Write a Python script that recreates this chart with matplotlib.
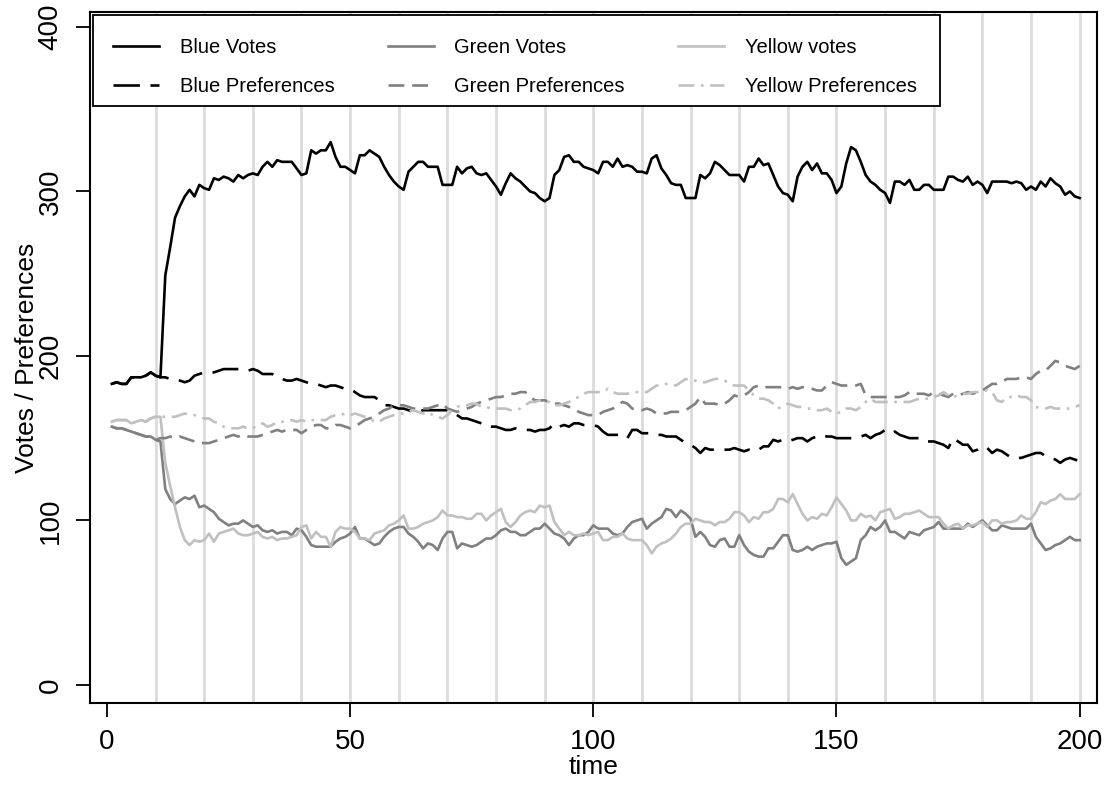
import numpy as np
import matplotlib.pyplot as plt
from matplotlib.patches import Rectangle

plt.rcParams['font.family'] = ['Liberation Sans', 'DejaVu Sans']

# vote and preference counts per time step (t = 1..200)
time = np.arange(1, 201)

blue_votes = [
    183, 184, 183, 183, 187, 187, 187, 188, 190, 188,
    187, 249, 266, 284, 291, 297, 301, 297, 304, 302,
    301, 308, 307, 309, 308, 306, 310, 308, 310, 311,
    310, 315, 318, 315, 319, 318, 318, 318, 314, 310,
    311, 325, 323, 325, 325, 330, 321, 315, 315, 313,
    311, 322, 322, 325, 323, 321, 315, 310, 306, 303,
    301, 312, 315, 318, 318, 315, 315, 315, 304, 304,
    304, 315, 311, 314, 315, 311, 310, 311, 307, 303,
    298, 305, 311, 308, 306, 303, 300, 299, 296, 294,
    296, 310, 313, 321, 322, 318, 318, 315, 314, 313,
    311, 318, 318, 315, 320, 315, 316, 315, 312, 312,
    311, 320, 322, 314, 310, 305, 304, 304, 296, 296,
    296, 310, 308, 311, 318, 316, 313, 310, 310, 310,
    306, 315, 315, 320, 316, 317, 310, 303, 299, 298,
    294, 309, 315, 318, 313, 317, 311, 311, 307, 299,
    303, 317, 327, 325, 318, 310, 306, 304, 301, 299,
    293, 306, 306, 304, 307, 301, 301, 304, 304, 301,
    301, 301, 309, 309, 307, 306, 309, 304, 306, 304,
    299, 306, 306, 306, 306, 305, 306, 305, 301, 303,
    301, 306, 303, 308, 305, 303, 298, 300, 297, 296,
]

green_votes = [
    157, 156, 156, 155, 154, 153, 152, 151, 151, 149,
    148, 119, 113, 110, 112, 114, 113, 115, 108, 109,
    107, 105, 101, 99, 97, 98, 98, 100, 98, 96,
    97, 94, 93, 94, 92, 93, 93, 91, 95, 94,
    90, 85, 84, 84, 84, 84, 87, 89, 90, 92,
    96, 89, 89, 87, 85, 86, 90, 93, 95, 96,
    96, 92, 90, 87, 83, 86, 85, 82, 89, 93,
    93, 83, 86, 85, 84, 85, 87, 89, 89, 91,
    94, 95, 93, 93, 91, 91, 93, 95, 95, 98,
    95, 92, 91, 89, 85, 89, 91, 91, 93, 97,
    95, 95, 95, 92, 91, 92, 96, 99, 100, 101,
    95, 98, 100, 102, 107, 106, 102, 106, 104, 101,
    90, 93, 90, 85, 84, 88, 89, 84, 84, 91,
    85, 81, 79, 78, 78, 83, 83, 87, 91, 91,
    82, 81, 82, 84, 82, 84, 85, 86, 86, 87,
    77, 73, 75, 77, 88, 91, 96, 94, 96, 100,
    93, 93, 91, 89, 93, 92, 91, 94, 95, 96,
    99, 95, 95, 95, 95, 95, 98, 96, 98, 100,
    97, 94, 94, 97, 96, 95, 95, 95, 95, 98,
    90, 86, 82, 83, 85, 86, 88, 90, 88, 88,
]

yellow_votes = [
    160, 161, 161, 161, 159, 160, 161, 160, 162, 163,
    163, 135, 121, 108, 96, 88, 85, 88, 87, 88,
    92, 87, 92, 93, 94, 95, 92, 91, 91, 92,
    93, 90, 89, 90, 88, 89, 89, 90, 91, 96,
    97, 89, 93, 90, 90, 84, 93, 96, 95, 95,
    93, 89, 89, 88, 92, 93, 94, 97, 98, 100,
    103, 95, 95, 96, 98, 99, 100, 102, 106, 103,
    103, 102, 102, 101, 101, 104, 104, 100, 103, 105,
    107, 99, 96, 99, 103, 105, 106, 105, 109, 108,
    109, 99, 95, 91, 93, 91, 91, 92, 91, 92,
    93, 88, 88, 90, 90, 92, 89, 88, 88, 88,
    85, 80, 84, 86, 87, 89, 92, 96, 98, 98,
    101, 100, 99, 99, 97, 99, 99, 101, 105, 105,
    103, 99, 102, 101, 105, 105, 107, 113, 113, 111,
    116, 110, 104, 100, 102, 101, 104, 103, 108, 114,
    110, 106, 100, 100, 104, 102, 103, 100, 105, 106,
    107, 101, 102, 104, 104, 105, 106, 104, 102, 102,
    102, 98, 95, 97, 98, 95, 97, 97, 98, 99,
    96, 100, 100, 98, 99, 99, 100, 103, 101, 101,
    105, 111, 110, 112, 113, 116, 113, 113, 113, 116,
]

blue_prefs = [
    183, 184, 183, 183, 187, 187, 187, 188, 190, 188,
    187, 187, 186, 186, 185, 184, 185, 188, 189, 190,
    190, 190, 191, 192, 192, 192, 192, 192, 191, 192,
    191, 189, 189, 189, 187, 186, 185, 185, 186, 185,
    184, 183, 183, 182, 181, 182, 182, 181, 180, 180,
    178, 176, 175, 175, 175, 173, 170, 170, 169, 168,
    168, 167, 166, 166, 167, 167, 167, 167, 167, 167,
    166, 164, 162, 162, 161, 160, 159, 157, 157, 157,
    156, 155, 155, 156, 155, 155, 155, 154, 155, 155,
    156, 159, 157, 158, 157, 159, 159, 158, 158, 158,
    157, 154, 152, 152, 152, 152, 150, 155, 155, 153,
    153, 153, 152, 152, 151, 151, 151, 149, 147, 146,
    144, 141, 144, 143, 143, 143, 143, 143, 144, 143,
    142, 143, 142, 143, 145, 145, 149, 148, 149, 148,
    149, 150, 150, 148, 150, 151, 152, 151, 151, 150,
    150, 150, 150, 150, 151, 152, 150, 152, 153, 155,
    153, 154, 152, 151, 150, 150, 150, 148, 148, 148,
    147, 146, 144, 150, 148, 146, 146, 142, 143, 145,
    144, 141, 143, 142, 140, 138, 138, 138, 139, 140,
    141, 141, 139, 138, 137, 135, 137, 138, 137, 136,
]

green_prefs = [
    157, 156, 156, 155, 154, 153, 152, 151, 151, 149,
    150, 150, 151, 150, 151, 150, 149, 148, 147, 147,
    147, 148, 149, 150, 151, 152, 151, 152, 151, 151,
    151, 152, 153, 154, 155, 154, 155, 155, 155, 153,
    155, 157, 158, 158, 156, 156, 158, 158, 157, 156,
    157, 159, 161, 162, 163, 165, 167, 168, 170, 170,
    170, 169, 168, 168, 168, 168, 169, 170, 171, 168,
    167, 166, 167, 168, 169, 171, 172, 173, 174, 175,
    175, 176, 177, 177, 178, 178, 175, 173, 173, 173,
    172, 171, 171, 170, 169, 168, 166, 165, 164, 164,
    164, 166, 167, 168, 170, 172, 171, 168, 167, 167,
    168, 167, 165, 165, 165, 166, 166, 166, 167, 169,
    171, 175, 171, 171, 171, 170, 171, 173, 176, 175,
    176, 178, 181, 182, 181, 181, 181, 181, 181, 180,
    181, 180, 181, 181, 180, 179, 179, 182, 184, 183,
    182, 182, 182, 182, 183, 176, 175, 175, 175, 175,
    175, 175, 175, 176, 178, 177, 177, 177, 176, 178,
    177, 176, 175, 177, 176, 177, 178, 177, 178, 179,
    181, 183, 183, 184, 186, 186, 186, 187, 187, 186,
    189, 191, 191, 194, 197, 196, 194, 193, 192, 194,
]

yellow_prefs = [
    160, 161, 161, 161, 159, 160, 161, 160, 162, 163,
    163, 163, 163, 163, 164, 165, 164, 164, 163, 162,
    162, 160, 159, 157, 156, 156, 156, 157, 156, 156,
    158, 159, 157, 158, 160, 160, 160, 161, 160, 161,
    160, 161, 161, 161, 161, 163, 164, 164, 165, 164,
    165, 164, 163, 162, 160, 160, 162, 163, 164, 165,
    165, 166, 167, 166, 165, 166, 164, 163, 162, 164,
    167, 169, 170, 170, 171, 171, 169, 169, 168, 168,
    168, 168, 167, 167, 168, 170, 172, 172, 173, 172,
    172, 170, 170, 171, 172, 174, 175, 177, 178, 178,
    178, 178, 180, 178, 177, 177, 177, 178, 178, 178,
    178, 180, 182, 182, 183, 183, 182, 184, 186, 185,
    185, 184, 184, 185, 186, 186, 185, 183, 182, 182,
    182, 179, 176, 174, 174, 173, 171, 168, 170, 171,
    170, 169, 169, 168, 168, 167, 167, 168, 166, 165,
    166, 168, 168, 167, 169, 172, 174, 172, 172, 172,
    172, 172, 172, 172, 172, 173, 174, 174, 174, 175,
    176, 178, 176, 175, 176, 177, 177, 178, 178, 179,
    179, 178, 173, 172, 175, 175, 176, 175, 175, 173,
    169, 168, 168, 169, 168, 168, 168, 168, 169, 170,
]

W, H = 1110, 785
fig = plt.figure(figsize=(W / 100, H / 100), dpi=100)
ax = fig.add_axes([0.081, 0.1045, 0.907, 0.880])

# reference lines every 10 time steps
for xv in range(10, 201, 10):
    ax.axvline(xv, color='#dcdcdc', lw=2.0, zorder=1)

lw = 1.9
h_bv, = ax.plot(time, blue_votes, color='black', lw=lw, label='Blue Votes', zorder=3)
h_gv, = ax.plot(time, green_votes, color='#808080', lw=lw, label='Green Votes', zorder=3)
h_yv, = ax.plot(time, yellow_votes, color='#c0c0c0', lw=lw, label='Yellow votes', zorder=3)
h_bp, = ax.plot(time, blue_prefs, color='black', lw=lw, dashes=(10, 4),
                label='Blue Preferences', zorder=3)
h_gp, = ax.plot(time, green_prefs, color='#808080', lw=lw, dashes=(6, 3),
                label='Green Preferences', zorder=3)
h_yp, = ax.plot(time, yellow_prefs, color='#c0c0c0', lw=lw, dashes=(6, 2.5, 1, 2.5),
                label='Yellow Preferences', zorder=3)

ax.set_xlim(-3.5, 203.5)
ax.set_ylim(-11, 409)
ax.set_xticks([0, 50, 100, 150, 200])
ax.set_yticks([0, 100, 200, 300, 400])
ax.tick_params(axis='both', direction='out', length=10, width=1.3, labelsize=20,
               colors='black', pad=9)
for lab in ax.get_yticklabels():
    lab.set_rotation(90)
    lab.set_va('center')
for sp in ax.spines.values():
    sp.set_linewidth(1.5)
    sp.set_color('black')

ax.set_xlabel('time', fontsize=19, va='center')
ax.xaxis.set_label_coords(0.5, (703 - 767) / 691)
ax.set_ylabel('Votes / Preferences', fontsize=19, va='center')
ax.yaxis.set_label_coords((27 - 90) / 1007, 0.5)

# legend entries in three columns, boxed separately
leg = ax.legend(handles=[h_bv, h_bp, h_gv, h_gp, h_yv, h_yp], ncol=3,
                loc='upper left', bbox_to_anchor=(93 / W, 1 - 18 / H),
                bbox_transform=fig.transFigure, borderaxespad=0,
                fontsize=14.5, handlelength=2.3, handletextpad=1.0,
                columnspacing=2.65, labelspacing=1.0, borderpad=1.0,
                frameon=False)
leg.set_zorder(5)
box = Rectangle((93 / W, 1 - 106 / H), (940 - 93) / W, (106 - 15) / H,
                transform=fig.transFigure, facecolor='white', edgecolor='black',
                lw=1.3, zorder=4)
ax.add_artist(box)
box.set_clip_on(False)

fig.savefig('out.png', dpi=100, facecolor='white')
